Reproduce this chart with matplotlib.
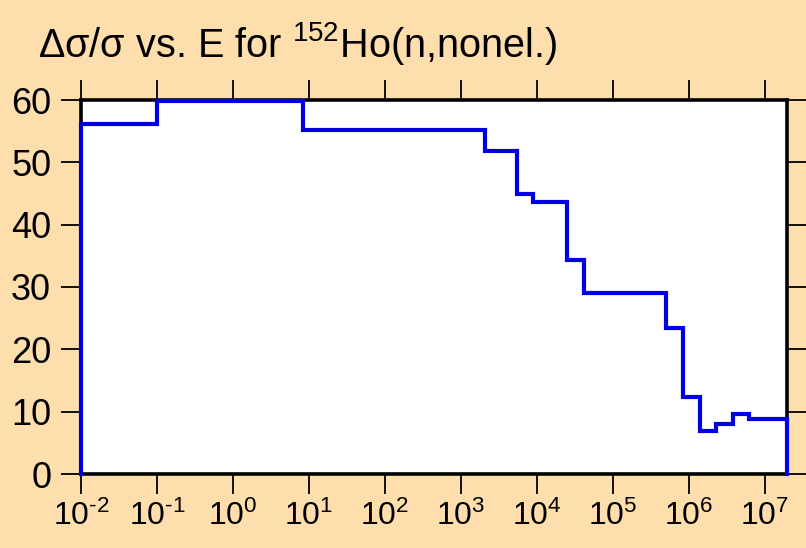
import numpy as np
import matplotlib
matplotlib.use('Agg')
import matplotlib.pyplot as plt
from matplotlib.ticker import FixedLocator, FuncFormatter, NullLocator

plt.rcParams['font.family'] = ['Liberation Sans', 'DejaVu Sans']
plt.rcParams['mathtext.fontset'] = 'custom'
plt.rcParams['mathtext.rm'] = 'Liberation Sans'
plt.rcParams['mathtext.it'] = 'Liberation Sans'
plt.rcParams['mathtext.bf'] = 'Liberation Sans'
plt.rcParams['axes.unicode_minus'] = False

# bin edges (eV) and relative uncertainty (%) per bin
edges = [1e-2, 1e-1, 8.3, 2.04e3, 5.5e3, 9.0e3, 2.5e4, 4.1e4, 4.94e5,
         8.3e5, 1.39e6, 2.25e6, 3.78e6, 6.1e6, 1.95e7]
values = [56.1, 59.8, 55.2, 51.8, 45.0, 43.6, 34.4, 29.0, 23.4,
          12.4, 6.9, 8.0, 9.7, 8.8]
xticks = [1e-2, 1e-1, 1e0, 1e1, 1e2, 1e3, 1e4, 1e5, 1e6, 1e7]
yticks = [0, 10, 20, 30, 40, 50, 60]


def pow10(x, pos):
    e = int(round(np.log10(x)))
    # short hyphen in the exponent, like the original
    return r'$10^{\text{%d}}$' % e


bg = '#FDDEAC'
fig = plt.figure(figsize=(8.06, 5.48), dpi=100, facecolor=bg)
ax = fig.add_axes([81/806, 1-474/548, (787-81)/806, (474-100)/548])
ax.set_facecolor('white')

# step outline, closed down to zero at both ends
xs = [edges[0]] + list(np.repeat(edges, 2)[1:-1]) + [edges[-1]]
ys = [0] + list(np.repeat(values, 2)) + [0]
ax.plot(xs, ys, color='#0000E0', lw=3, clip_on=False, zorder=5,
        solid_joinstyle='miter')

ax.set_xscale('log')
ax.set_xlim(1e-2, 1.95e7)
ax.set_ylim(0, 60)
ax.xaxis.set_major_locator(FixedLocator(xticks))
ax.xaxis.set_major_formatter(FuncFormatter(pow10))
ax.xaxis.set_minor_locator(NullLocator())
ax.set_yticks(yticks)

for s in ax.spines.values():
    s.set_linewidth(2.6)
    s.set_color('black')

ax.tick_params(axis='both', which='major', direction='out', length=14.5,
               width=1.3, top=True, right=True,
               labeltop=False, labelright=False)
ax.tick_params(axis='x', pad=5, labelsize=23)
ax.tick_params(axis='y', pad=7, labelsize=26)

fig.text(38/806, 1-57/548, r'$\Delta\sigma/\sigma$ vs. E for $^{152}$Ho(n,nonel.)',
         fontsize=28.5, ha='left', va='baseline')

fig.savefig('out.png', dpi=100, facecolor=bg)
